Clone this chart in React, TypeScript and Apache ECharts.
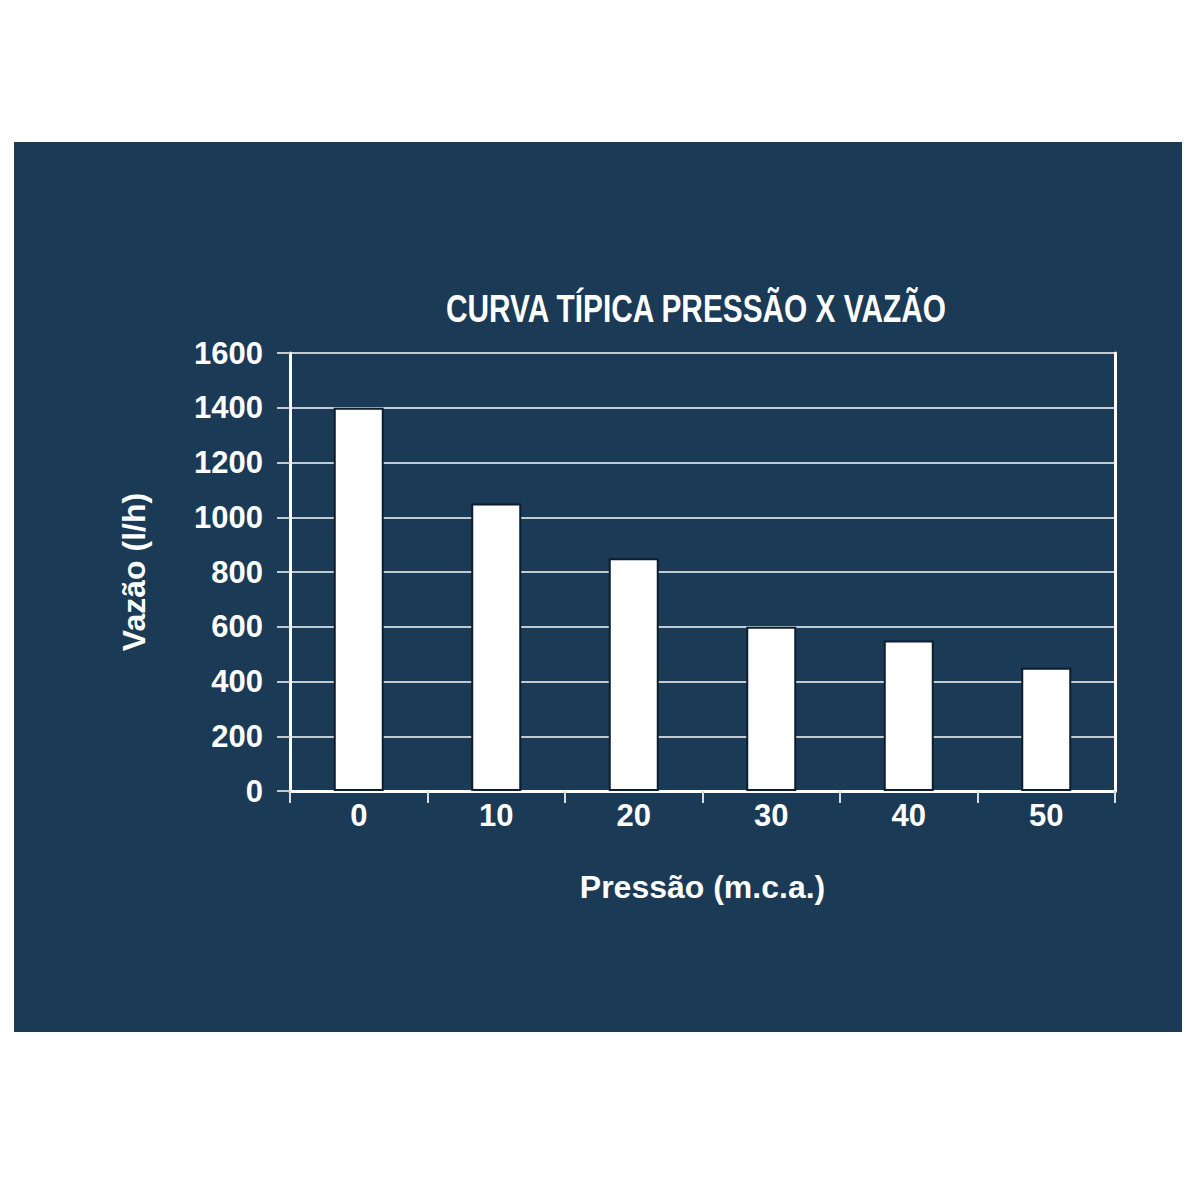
import React, { useEffect, useRef } from "react";
import * as echarts from "echarts";

const categories = ["0", "10", "20", "30", "40", "50"];
const flowValues = [1400, 1050, 850, 600, 550, 450];
const yTicks = [0, 200, 400, 600, 800, 1000, 1200, 1400, 1600];

const titleText = "CURVA TÍPICA PRESSÃO X VAZÃO";
const xName = "Pressão (m.c.a.)";
const yName = "Vazão (l/h)";

const BG = "#1a3a55";
const GRID_LINE = "#c3cbd2";
const FONT = "'Liberation Sans', Arial, Helvetica, sans-serif";

export default function App() {
  const ref = useRef<HTMLDivElement>(null);
  useEffect(() => {
    if (!ref.current) return;
    const chart = echarts.init(ref.current, null, { renderer: "svg" });
    const frameAxis = {
      show: true,
      axisLine: { show: true, lineStyle: { color: "#ffffff", width: 3 } },
      axisTick: { show: false },
      axisLabel: { show: false },
      splitLine: { show: false },
    };
    chart.setOption({
      animation: false,
      backgroundColor: "#ffffff",
      graphic: [
        {
          type: "rect",
          z: -100,
          silent: true,
          shape: { x: 14, y: 142, width: 1168, height: 890 },
          style: { fill: BG },
        },
        {
          type: "text",
          z: 100,
          silent: true,
          x: 696,
          y: 309,
          scaleX: 0.785,
          scaleY: 1,
          style: {
            text: titleText,
            x: 0,
            y: 0,
            textAlign: "center",
            textVerticalAlign: "middle",
            fill: "#ffffff",
            fontFamily: FONT,
            fontWeight: "bold",
            fontSize: 38,
          },
        },
      ],
      grid: {
        left: 290,
        right: 85,
        top: 353,
        bottom: 409,
        show: false,
        containLabel: false,
      },
      xAxis: [
        {
          type: "category",
          data: categories,
          boundaryGap: true,
          name: xName,
          nameLocation: "middle",
          nameGap: 80,
          nameTextStyle: {
            color: "#ffffff",
            fontFamily: FONT,
            fontWeight: "bold",
            fontSize: 32,
          },
          axisLine: { show: true, lineStyle: { color: "#ffffff", width: 3 } },
          axisTick: {
            show: true,
            alignWithLabel: false,
            length: 12,
            lineStyle: { color: "#d8dde2", width: 2 },
          },
          axisLabel: {
            color: "#ffffff",
            fontFamily: FONT,
            fontWeight: "bold",
            fontSize: 31,
            margin: 9,
          },
          splitLine: { show: false },
        },
        {
          type: "category",
          data: categories,
          position: "top",
          ...frameAxis,
        },
      ],
      yAxis: [
        {
          type: "value",
          min: yTicks[0],
          max: yTicks[yTicks.length - 1],
          interval: yTicks[1] - yTicks[0],
          name: yName,
          nameLocation: "middle",
          nameRotate: 90,
          nameGap: 140,
          nameTextStyle: {
            color: "#ffffff",
            fontFamily: FONT,
            fontWeight: "bold",
            fontSize: 32,
          },
          axisLine: { show: true, lineStyle: { color: "#ffffff", width: 3 } },
          axisTick: {
            show: true,
            length: 13,
            lineStyle: { color: GRID_LINE, width: 2 },
          },
          axisLabel: {
            color: "#ffffff",
            fontFamily: FONT,
            fontWeight: "bold",
            fontSize: 31,
            margin: 27,
            formatter: (v: number) => String(v),
          },
          splitLine: { show: true, lineStyle: { color: GRID_LINE, width: 2 } },
        },
        {
          type: "value",
          position: "right",
          min: yTicks[0],
          max: yTicks[yTicks.length - 1],
          interval: yTicks[1] - yTicks[0],
          ...frameAxis,
        },
      ],
      series: [
        {
          type: "bar",
          data: flowValues,
          barWidth: 50,
          itemStyle: {
            color: "#ffffff",
            borderColor: "#0b1d2e",
            borderWidth: 2,
          },
          z: 3,
        },
      ],
    });
    return () => chart.dispose();
  }, []);
  return (
    <div
      ref={ref}
      style={{ position: "absolute", left: 0, top: 0, width: 1200, height: 1200 }}
    />
  );
}
